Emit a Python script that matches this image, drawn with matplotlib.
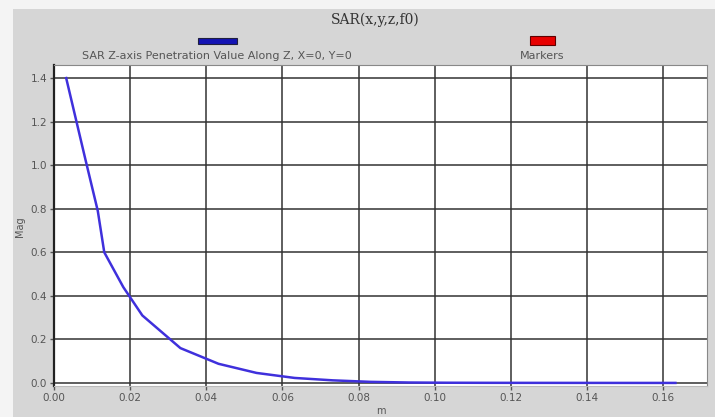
import matplotlib
matplotlib.use("Agg")
import matplotlib.pyplot as plt
from matplotlib.patches import Rectangle

# SAR along Z axis (x=0, y=0)
depth_m = [0.0032, 0.0082, 0.0115, 0.0132, 0.0182, 0.0232, 0.0332, 0.0432,
           0.0532, 0.0632, 0.0732, 0.0832, 0.0932, 0.1032, 0.1132, 0.1232,
           0.1332, 0.1432, 0.1532, 0.1632]
sar_mag = [1.40, 1.03, 0.79, 0.60, 0.44, 0.31, 0.16, 0.088,
           0.046, 0.023, 0.012, 0.005, 0.002, 0.001, 0.0006, 0.0004,
           0.0003, 0.0002, 0.0001, 0.0001]

x_ticks = [0.00, 0.02, 0.04, 0.06, 0.08, 0.10, 0.12, 0.14, 0.16]
y_ticks = [0.0, 0.2, 0.4, 0.6, 0.8, 1.0, 1.2, 1.4]

series_label = "SAR Z-axis Penetration Value Along Z, X=0, Y=0"
marker_label = "Markers"
title = "SAR(x,y,z,f0)"

W, H = 715, 417
fig = plt.figure(figsize=(W / 100, H / 100), dpi=100, facecolor="#f4f4f4")

# grey panel behind everything
fig.patches.append(Rectangle((13 / W, 0), 1 - 13 / W, 1 - 9 / H,
                             transform=fig.transFigure, facecolor="#d6d6d6",
                             edgecolor="none", zorder=-10))

ax = fig.add_axes([54 / W, 1 - 386 / H, (707 - 54) / W, (386 - 65) / H])
ax.set_facecolor("white")
ax.plot(depth_m, sar_mag, color="#3f30dc", lw=1.8, zorder=3)

ax.set_xlim(0, 0.1715)
ax.set_ylim(-0.014, 1.46)
ax.set_xticks(x_ticks)
ax.set_yticks(y_ticks)
ax.set_xticklabels(["%.2f" % v for v in x_ticks])
ax.set_yticklabels(["%.1f" % v for v in y_ticks])
ax.tick_params(labelsize=7.5, colors="#555555", length=3, width=1, pad=2)
ax.grid(True, color="#333333", lw=1.1)

for side in ("top", "right"):
    ax.spines[side].set_color("#888888")
ax.spines["left"].set_color("#222222")
ax.spines["left"].set_linewidth(1.6)
ax.spines["bottom"].set_color("#bbbbbb")

ax.set_xlabel("m", fontsize=7, color="#555555", labelpad=2)
fig.text(20 / W, 1 - 227 / H, "Mag", rotation=90, fontsize=7,
         color="#555555", ha="center", va="center")

fig.text(375 / W, 1 - 20 / H, title, family="DejaVu Serif", fontsize=10,
         color="#333333", ha="center", va="center")

# legend entries drawn in figure space
fig.patches.append(Rectangle((198 / W, 1 - 44 / H), 39 / W, 6 / H,
                             transform=fig.transFigure, facecolor="#1414b4",
                             edgecolor="#202040", lw=0.8))
fig.text(217 / W, 1 - 56 / H, series_label, fontsize=8, color="#555555",
         ha="center", va="center")
fig.patches.append(Rectangle((530 / W, 1 - 45 / H), 25 / W, 9 / H,
                             transform=fig.transFigure, facecolor="#e80000",
                             edgecolor="#600000", lw=0.8))
fig.text(542 / W, 1 - 56 / H, marker_label, fontsize=8, color="#555555",
         ha="center", va="center")

fig.savefig("out.png", dpi=100, facecolor=fig.get_facecolor())
